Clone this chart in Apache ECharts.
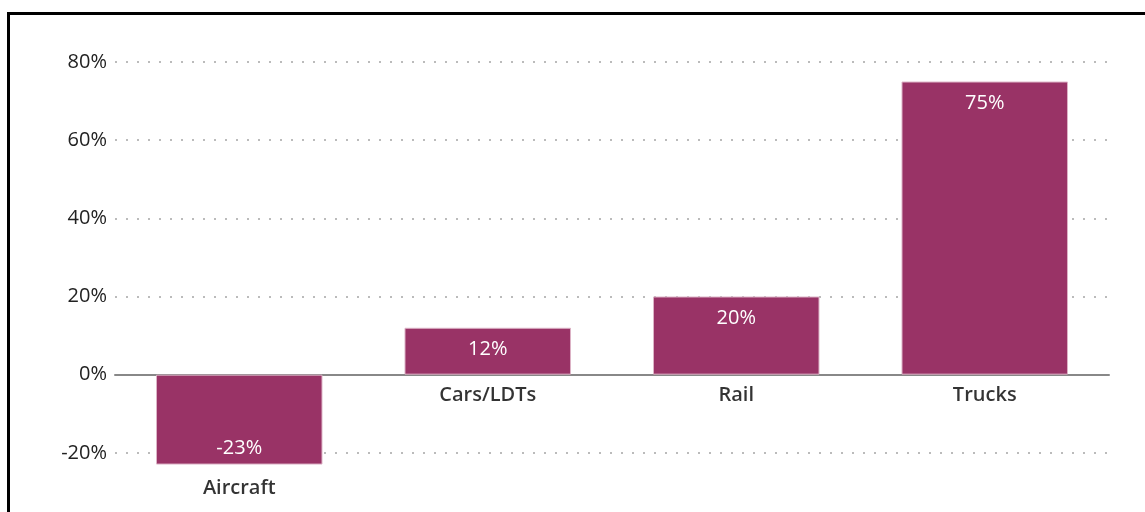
<!DOCTYPE html>
<html>
<head>
<meta charset="utf-8">
<script src="https://cdn.jsdelivr.net/npm/echarts@6/dist/echarts.min.js"></script>
<style>
html, body { margin: 0; padding: 0; background: #fff; }
#chart { width: 1145px; height: 512px; }
</style>
</head>
<body>
<div id="chart"></div>
<script>
const categories = ['Aircraft', 'Cars/LDTs', 'Rail', 'Trucks'];
const values = [-23, 12, 20, 75];
const yTicks = { min: -40, max: 80, interval: 20 };

const font = '"Open Sans", "Noto Sans", sans-serif';
const barColor = '#993366';

const chart = echarts.init(document.getElementById('chart'));

const option = {
    animation: false,
    grid: {
        left: 115,
        right: 36,
        top: 62,
        bottom: -19,
        outerBoundsMode: 'none',
    },
    graphic: [
        {
            type: 'rect',
            shape: { x: 8.5, y: 13.5, width: 1200, height: 600 },
            style: { fill: 'none', stroke: '#000', lineWidth: 3 },
            silent: true,
        },
    ],
    xAxis: {
        type: 'category',
        data: categories,
        axisLine: { show: true, onZero: true, lineStyle: { color: '#888', width: 2 } },
        axisTick: { show: false },
        axisLabel: { show: false },
        splitLine: { show: false },
    },
    yAxis: {
        type: 'value',
        min: yTicks.min,
        max: yTicks.max,
        interval: yTicks.interval,
        axisLine: { show: false },
        axisTick: { show: false },
        axisLabel: {
            margin: 8,
            color: '#222',
            fontFamily: font,
            fontSize: 20,
            padding: [0, 0, 6, 0],
            formatter: (v) => (v <= -40 ? '' : v + '%'),
        },
        splitLine: {
            show: true,
            lineStyle: { color: '#bbb', width: 2, type: [2, 9] },
        },
    },
    series: [
        {
            type: 'bar',
            barWidth: '67%',
            data: values.map((v) => ({
                value: v,
                label: v < 0
                    ? { position: 'insideBottom', distance: 6 }
                    : { position: 'insideTop', distance: 12 },
            })),
            itemStyle: { color: barColor, borderColor: '#dcb3c6', borderWidth: 1 },
            label: {
                show: true,
                color: '#fff',
                fontFamily: font,
                fontSize: 20,
                formatter: (p) => p.value + '%',
            },
            z: 3,
        },
        {
            type: 'scatter',
            symbolSize: 0,
            silent: true,
            data: values.map((v, i) => ({
                value: [categories[i], Math.min(v, 0)],
                label: { distance: v < 0 ? 14 : 11 },
            })),
            label: {
                show: true,
                position: 'bottom',
                color: '#000',
                fontWeight: 600,
                fontFamily: font,
                fontSize: 20,
                formatter: (p) => categories[p.dataIndex],
            },
            z: 4,
        },
    ],
};

chart.setOption(option);
</script>
</body>
</html>
